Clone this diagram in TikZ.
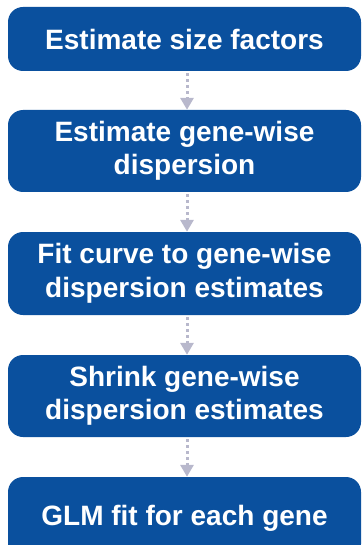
\documentclass[tikz,border=0pt]{standalone}
\usepackage{fontspec}
\setmainfont{Liberation Sans}
\usetikzlibrary{arrows.meta}
\definecolor{boxblue}{RGB}{10,80,158}
\definecolor{arrowgray}{RGB}{184,184,204}
\tikzset{
  stepbox/.style={fill=boxblue, rounded corners=15pt, minimum width=353pt, align=center,
    text=white, font=\bfseries\fontsize{28}{33.5}\selectfont, inner sep=0pt},
  flow/.style={draw=arrowgray, line width=3pt, dash pattern=on 3pt off 3pt,
    -{Triangle[width=13pt,length=12pt,fill=arrowgray]}, shorten >=0pt}
}
\begin{document}
\begin{tikzpicture}[x=1pt,y=-1pt]
\useasboundingbox (0,0) rectangle (362,545);
\node[stepbox, minimum height=64pt] (b1) at (184.5,39) {Estimate size factors};
\node[stepbox, minimum height=82pt] (b2) at (184.5,151) {Estimate gene-wise\\dispersion};
\node[stepbox, minimum height=83pt] (b3) at (184.5,273.5) {Fit curve to gene-wise\\dispersion estimates};
\node[stepbox, minimum height=82pt] (b4) at (184.5,396) {Shrink gene-wise\\dispersion estimates};
\node[stepbox, minimum height=82pt] (b5) at (184.5,518) {GLM fit for each gene};
\foreach \a/\b in {b1/b2,b2/b3,b3/b4,b4/b5}
  \draw[flow] ([xshift=2.5pt,yshift=-2pt]\a.south) -- ([xshift=2.5pt]\b.north);
\end{tikzpicture}
\end{document}
